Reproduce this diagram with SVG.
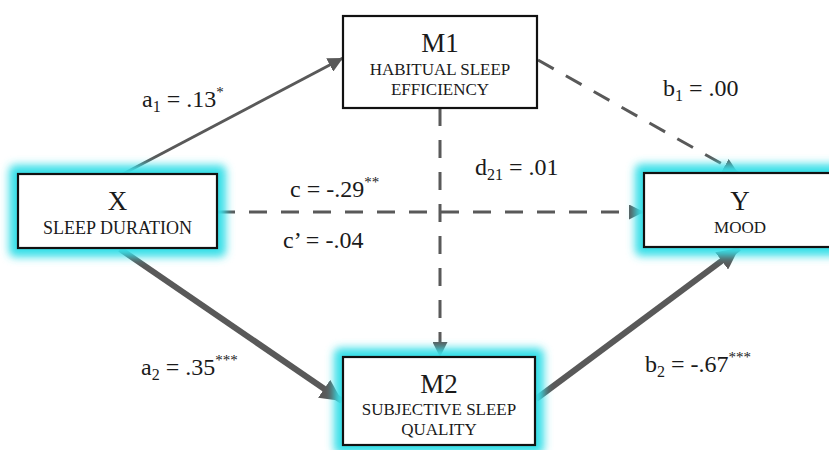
<svg xmlns="http://www.w3.org/2000/svg" width="829" height="450" viewBox="0 0 829 450">
<defs>
<style>
.box{fill:#fff;stroke:#111;stroke-width:2.2}
.glow{fill:#38dfe8;filter:url(#blur)}
text{font-family:'Liberation Serif','DejaVu Serif','Times New Roman',serif;fill:#1a1a1a}
.big{font-size:27px}
.sub{font-size:17px}
.subx{font-size:18px}
.lab{font-size:24px}
.ln{stroke:#595959;fill:none}
.thin{stroke-width:3}
.thick{stroke-width:6}
.dash{stroke-width:3;stroke-dasharray:18 14}
</style>
<filter id="blur" x="-20%" y="-30%" width="140%" height="160%">
<feGaussianBlur stdDeviation="4.5"/>
</filter>
<marker id="ah" viewBox="0 0 10 10" refX="10" refY="5" markerWidth="5" markerHeight="5" orient="auto" markerUnits="strokeWidth">
<path d="M0,0 L10,5 L0,10 z" fill="#595959"/>
</marker>
<marker id="ahT" viewBox="0 0 10 10" refX="10" refY="5" markerWidth="3.6" markerHeight="3.6" orient="auto" markerUnits="strokeWidth">
<path d="M0,0 L10,5 L0,10 z" fill="#595959"/>
</marker>
</defs>
<rect width="829" height="450" fill="#fff"/>

<g id="connectors">
<line class="ln thin" x1="123" y1="174" x2="343" y2="58" marker-end="url(#ah)"/>
<line class="ln thick" x1="120" y1="249" x2="342" y2="401" marker-end="url(#ahT)"/>
<line class="ln thick" x1="536" y1="399" x2="739" y2="248" marker-end="url(#ahT)"/>
<line class="ln dash" x1="538" y1="60" x2="738" y2="173" marker-end="url(#ah)"/>
<line class="ln dash" x1="217" y1="212" x2="644" y2="212" marker-end="url(#ah)"/>
<line class="ln dash" x1="440" y1="108" x2="440" y2="357" marker-end="url(#ah)"/>
</g>

<g id="node-x">
<rect class="glow" x="9" y="165" width="217" height="92" rx="6"/>
<rect class="box" x="18" y="174" width="199" height="74"/>
<text class="big" x="117.5" y="210" text-anchor="middle">X</text>
<text class="subx" x="117.5" y="234" text-anchor="middle">SLEEP DURATION</text>
</g>

<g id="node-m1">
<rect class="box" x="343" y="16" width="194" height="92"/>
<text class="big" x="440" y="52" text-anchor="middle">M1</text>
<text class="sub" x="440" y="75" text-anchor="middle">HABITUAL SLEEP</text>
<text class="sub" x="440" y="95" text-anchor="middle">EFFICIENCY</text>
</g>

<g id="node-m2">
<rect class="glow" x="334" y="348" width="210" height="106" rx="6"/>
<rect class="box" x="343" y="357" width="192" height="88"/>
<text class="big" x="439" y="393" text-anchor="middle">M2</text>
<text class="sub" x="439" y="415" text-anchor="middle">SUBJECTIVE SLEEP</text>
<text class="sub" x="439" y="435" text-anchor="middle">QUALITY</text>
</g>

<g id="node-y">
<rect class="glow" x="635" y="164" width="210" height="92" rx="6"/>
<rect class="box" x="644" y="173" width="192" height="74"/>
<text class="big" x="740" y="210" text-anchor="middle">Y</text>
<text class="sub" x="740" y="233" text-anchor="middle">MOOD</text>
</g>

<g id="labels">
<text class="lab" x="142" y="107">a<tspan font-size="16" dy="5">1</tspan><tspan dy="-5"> = .13</tspan><tspan font-size="15" dy="-10">*</tspan></text>
<text class="lab" x="290" y="197">c = -.29<tspan font-size="15" dy="-10">**</tspan></text>
<text class="lab" x="283" y="248">c’ = -.04</text>
<text class="lab" x="475" y="175">d<tspan font-size="16" dy="5">21</tspan><tspan dy="-5"> = .01</tspan></text>
<text class="lab" x="663" y="96">b<tspan font-size="16" dy="5">1</tspan><tspan dy="-5"> = .00</tspan></text>
<text class="lab" x="141" y="375">a<tspan font-size="16" dy="5">2</tspan><tspan dy="-5"> = .35</tspan><tspan font-size="15" dy="-10">***</tspan></text>
<text class="lab" x="645" y="372">b<tspan font-size="16" dy="5">2</tspan><tspan dy="-5"> = -.67</tspan><tspan font-size="15" dy="-10">***</tspan></text>
</g>
</svg>
